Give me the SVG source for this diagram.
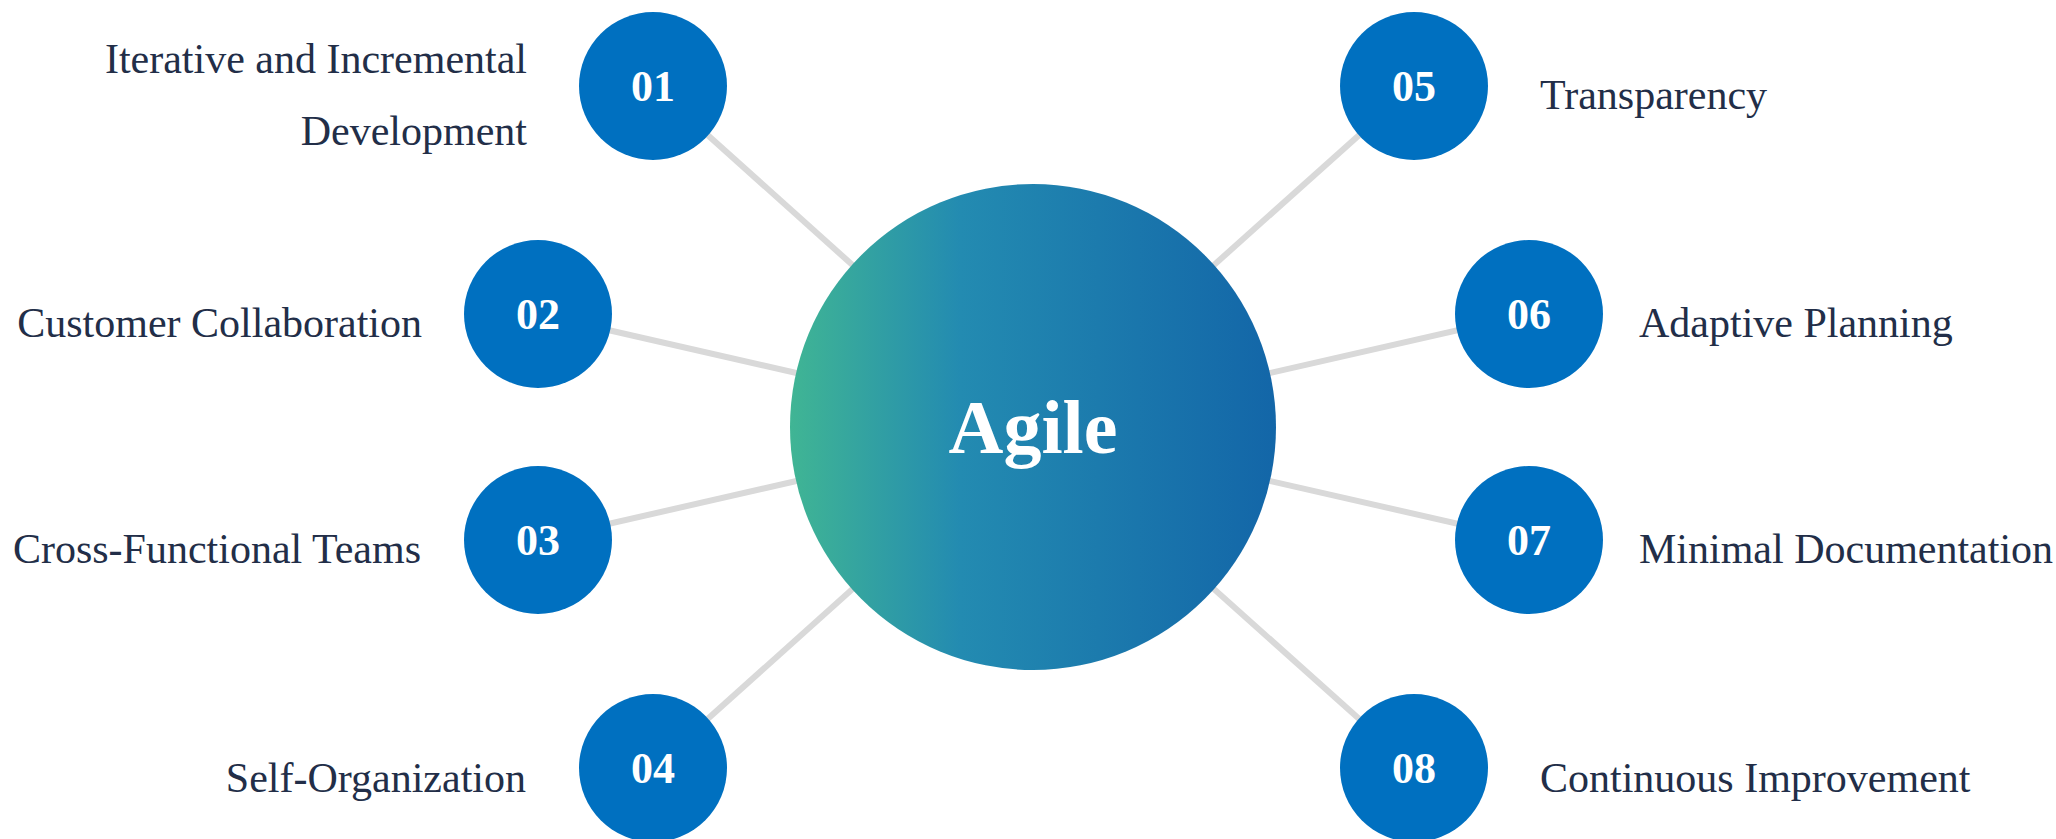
<svg xmlns="http://www.w3.org/2000/svg" width="2056" height="839" viewBox="0 0 2056 839">
  <defs>
    <linearGradient id="hubGrad" x1="0" y1="0" x2="1" y2="0">
      <stop offset="0" stop-color="#40B594"/>
      <stop offset="0.35" stop-color="#238BB1"/>
      <stop offset="1" stop-color="#1366A8"/>
    </linearGradient>
    <style>
      .conn { stroke: #D9D9D9; stroke-width: 6; fill: none; }
      .dot { fill: #0070C0; }
      .num { font-family: "Liberation Serif", "Times New Roman", serif; font-weight: bold; font-size: 44px; fill: #FFFFFF; text-anchor: middle; }
      .lbl { font-family: "Liberation Serif", "Times New Roman", serif; font-size: 42px; fill: #222E48; }
      .l { text-anchor: end; }
      .r { text-anchor: start; }
      .hubtxt { font-family: "Liberation Serif", "Times New Roman", serif; font-weight: bold; font-size: 76px; fill: #FFFFFF; text-anchor: middle; }
    </style>
  </defs>
  <rect width="2056" height="839" fill="#FFFFFF"/>
  <g id="connectors">
    <line class="conn" x1="653" y1="86" x2="1033" y2="427"/>
    <line class="conn" x1="538" y1="314" x2="1033" y2="427"/>
    <line class="conn" x1="538" y1="540" x2="1033" y2="427"/>
    <line class="conn" x1="653" y1="768" x2="1033" y2="427"/>
    <line class="conn" x1="1414" y1="86" x2="1033" y2="427"/>
    <line class="conn" x1="1529" y1="314" x2="1033" y2="427"/>
    <line class="conn" x1="1529" y1="540" x2="1033" y2="427"/>
    <line class="conn" x1="1414" y1="768" x2="1033" y2="427"/>
  </g>
  <g id="hub">
    <circle cx="1033" cy="427" r="243" fill="url(#hubGrad)"/>
    <text class="hubtxt" x="1033" y="453">Agile</text>
  </g>
  <g id="node01">
    <circle class="dot" cx="653" cy="86" r="74"/>
    <text class="num" x="653" y="101">01</text>
    <text class="lbl l" x="527" y="73">Iterative and Incremental</text>
    <text class="lbl l" x="527" y="145">Development</text>
  </g>
  <g id="node02">
    <circle class="dot" cx="538" cy="314" r="74"/>
    <text class="num" x="538" y="329">02</text>
    <text class="lbl l" x="422" y="337">Customer Collaboration</text>
  </g>
  <g id="node03">
    <circle class="dot" cx="538" cy="540" r="74"/>
    <text class="num" x="538" y="555">03</text>
    <text class="lbl l" x="421" y="563">Cross-Functional Teams</text>
  </g>
  <g id="node04">
    <circle class="dot" cx="653" cy="768" r="74"/>
    <text class="num" x="653" y="783">04</text>
    <text class="lbl l" x="526" y="792">Self-Organization</text>
  </g>
  <g id="node05">
    <circle class="dot" cx="1414" cy="86" r="74"/>
    <text class="num" x="1414" y="101">05</text>
    <text class="lbl r" x="1540" y="109">Transparency</text>
  </g>
  <g id="node06">
    <circle class="dot" cx="1529" cy="314" r="74"/>
    <text class="num" x="1529" y="329">06</text>
    <text class="lbl r" x="1639" y="337">Adaptive Planning</text>
  </g>
  <g id="node07">
    <circle class="dot" cx="1529" cy="540" r="74"/>
    <text class="num" x="1529" y="555">07</text>
    <text class="lbl r" x="1639" y="563">Minimal Documentation</text>
  </g>
  <g id="node08">
    <circle class="dot" cx="1414" cy="768" r="74"/>
    <text class="num" x="1414" y="783">08</text>
    <text class="lbl r" x="1540" y="792">Continuous Improvement</text>
  </g>
</svg>
